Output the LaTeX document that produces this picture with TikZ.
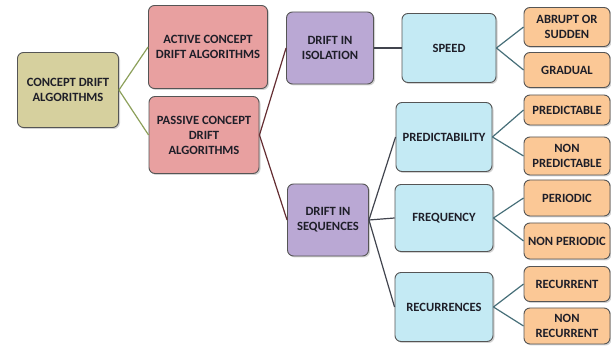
\documentclass[tikz,border=0pt]{standalone}
\usepackage{fontspec}
\setmainfont{Carlito}
\usetikzlibrary{shadows}

\definecolor{rootfill}{RGB}{214,208,158}
\definecolor{algfill}{RGB}{232,160,160}
\definecolor{driftfill}{RGB}{186,168,212}
\definecolor{aspectfill}{RGB}{196,234,244}
\definecolor{typefill}{RGB}{251,200,150}
\definecolor{boxline}{RGB}{85,85,85}
\definecolor{txt}{RGB}{30,30,40}
\definecolor{greenline}{RGB}{140,160,90}
\definecolor{redline}{RGB}{100,45,50}
\definecolor{slateline}{RGB}{65,68,78}
\definecolor{tealline}{RGB}{70,110,120}

\begin{document}
\begin{tikzpicture}[x=1pt,y=-1pt,
  box/.style={draw=boxline,line width=0.9pt,rounded corners=6pt,align=center,
    inner sep=0pt,text=txt,font=\fontsize{12.6}{15}\selectfont\bfseries,
    drop shadow={shadow xshift=1.5pt,shadow yshift=-1.5pt,opacity=0.35}},
  rootbox/.style={box,fill=rootfill,minimum width=101pt,minimum height=75pt},
  algbox/.style={box,fill=algfill},
  driftbox/.style={box,fill=driftfill,minimum height=72pt},
  aspectbox/.style={box,fill=aspectfill,minimum width=96pt,minimum height=69pt},
  typebox/.style={box,fill=typefill,minimum width=86pt},
  link/.style={line width=1.2pt}]
\useasboundingbox (0,0) rectangle (611,347);

\node[rootbox] (root) at (68,90) {CONCEPT DRIFT\\ALGORITHMS};

\node[algbox,minimum width=119pt,minimum height=83pt] (active) at (208,47) {ACTIVE CONCEPT\\DRIFT ALGORITHMS};
\node[algbox,minimum width=110pt,minimum height=77pt] (passive) at (204,135) {PASSIVE CONCEPT\\DRIFT\\ALGORITHMS};

\node[driftbox,minimum width=87pt] (isolation) at (330,48) {DRIFT IN\\ISOLATION};
\node[driftbox,minimum width=81pt] (sequences) at (328,220) {DRIFT IN\\SEQUENCES};

\node[aspectbox,minimum width=94pt] (speed) at (449,48) {SPEED};
\node[aspectbox] (predict) at (444,137) {PREDICTABILITY};
\node[aspectbox,minimum width=98pt,minimum height=67pt] (freq) at (444,218) {FREQUENCY};
\node[aspectbox,minimum width=98pt] (recur) at (444,307) {RECURRENCES};

\node[typebox,minimum height=39pt] (abrupt) at (567,27) {ABRUPT OR\\SUDDEN};
\node[typebox,minimum height=35pt] (gradual) at (567,70) {GRADUAL};
\node[typebox,minimum height=30pt] (predictable) at (567,110) {PREDICTABLE};
\node[typebox,minimum height=38pt] (nonpredictable) at (567,156) {NON\\PREDICTABLE};
\node[typebox,minimum height=36pt] (periodic) at (567,198) {PERIODIC};
\node[typebox,minimum height=36pt] (nonperiodic) at (567,241) {NON PERIODIC};
\node[typebox,minimum height=35pt] (recurrent) at (567,284) {RECURRENT};
\node[typebox,minimum height=36pt] (nonrecurrent) at (567,326) {NON\\RECURRENT};

% connectors
\foreach \Child in {active,passive}
  \draw[link,greenline] (root.east) -- (\Child.west);
\foreach \Child in {isolation,sequences}
  \draw[link,redline] (passive.east) -- (\Child.west);
\draw[link,slateline] (isolation.east) -- (speed.west);
\foreach \Child in {predict,freq,recur}
  \draw[link,slateline] (sequences.east) -- (\Child.west);
\foreach \Child in {abrupt,gradual}
  \draw[link,tealline] (speed.east) -- (\Child.west);
\foreach \Child in {predictable,nonpredictable}
  \draw[link,tealline] (predict.east) -- (\Child.west);
\foreach \Child in {periodic,nonperiodic}
  \draw[link,tealline] (freq.east) -- (\Child.west);
\foreach \Child in {recurrent,nonrecurrent}
  \draw[link,tealline] (recur.east) -- (\Child.west);
\end{tikzpicture}
\end{document}
